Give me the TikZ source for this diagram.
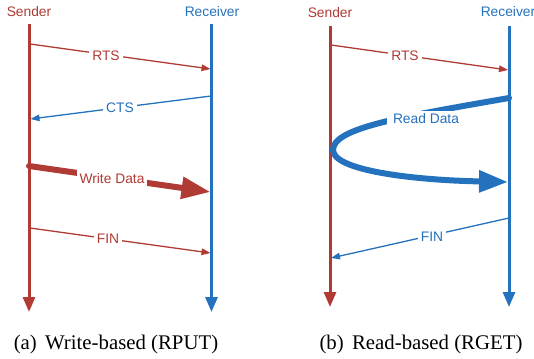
\documentclass[tikz,border=0pt]{standalone}
\usepackage{fontspec}
\setmainfont{Liberation Serif}
\setsansfont{Liberation Sans}
\usetikzlibrary{arrows.meta}
\definecolor{sred}{RGB}{176,58,52}
\definecolor{rblue}{RGB}{36,113,189}
\begin{document}
\begin{tikzpicture}[x=1pt,y=-1pt,
  lifeline/.style={line width=3pt,-{Triangle[length=15pt,width=12pt]}},
  msg/.style={line width=1.3pt,-{Triangle[length=9pt,width=6.5pt]}},
  bulk/.style={line width=6pt,line cap=round,-{Triangle[length=29pt,width=21pt]}},
  lbl/.style={font=\fontsize{13.8}{16}\selectfont\sffamily,anchor=base,inner sep=2pt},
  gap/.style={lbl,fill=white,inner sep=3pt},
  subcaption/.style={font=\fontsize{20.8}{24}\selectfont,anchor=base,inner sep=0pt}]
\useasboundingbox (0,0) rectangle (534,358);

% ---------- (a) write-based ----------
\node[lbl,text=sred]  (sa) at (29,17)  {Sender};
\node[lbl,text=rblue] (ra) at (212,17) {Receiver};
\coordinate (sa0) at (29,24);   \coordinate (sa1) at (29,312);
\coordinate (ra0) at (211.5,24); \coordinate (ra1) at (211.5,312);
\draw[lifeline,sred]  (sa0) -- (sa1);
\draw[lifeline,rblue] (ra0) -- (ra1);

\coordinate (a1) at (30,44);   \coordinate (a2) at (210.5,69);
\coordinate (a3) at (211,96);  \coordinate (a4) at (30.5,119);
\coordinate (a5) at (29,166);  \coordinate (a6) at (210.5,192);
\coordinate (a7) at (30,228);  \coordinate (a8) at (210.5,253);
\draw[msg,sred]  (a1) -- (a2);
\draw[msg,rblue] (a3) -- (a4);
\draw[bulk,sred] (a5) -- (a6);
\draw[msg,sred]  (a7) -- (a8);
\node[gap,text=sred]  (rtsa) at (106,60.5) {RTS};
\node[gap,text=rblue] (ctsa) at (120,112.5) {CTS};
\node[gap,text=sred]  (wd)   at (112,183) {Write Data};
\node[gap,text=sred]  (fina) at (108,243) {FIN};

\node[subcaption] (capa) at (116,349) {(a)\hspace{0.4em}Write-based (RPUT)};

% ---------- (b) read-based ----------
\node[lbl,text=sred]  (sb) at (330,18) {Sender};
\node[lbl,text=rblue] (rb) at (508,17) {Receiver};
\coordinate (sb0) at (330,26);  \coordinate (sb1) at (330,307);
\coordinate (rb0) at (509,26);  \coordinate (rb1) at (509,307);
\draw[lifeline,sred]  (sb0) -- (sb1);
\draw[lifeline,rblue] (rb0) -- (rb1);

\coordinate (b1) at (331,45);  \coordinate (b2) at (508,70);
\coordinate (b3) at (509,98);  \coordinate (b4) at (333,150); \coordinate (b5) at (508,182);
\coordinate (b6) at (509,218); \coordinate (b7) at (331,258);
\draw[msg,sred] (b1) -- (b2);
\draw[bulk,rblue] (b3) .. controls (400,117) and (333,128) .. (b4)
                       .. controls (333,170) and (410,180) .. (b5);
\draw[msg,rblue] (b6) -- (b7);
\node[gap,text=sred]  (rtsb) at (405,60.7) {RTS};
\node[gap,text=rblue,inner xsep=6pt] (rd) at (426,124) {Read Data};
\node[gap,text=rblue] (finb) at (432,241.5) {FIN};

\node[subcaption] (capb) at (421,349) {(b)\hspace{0.4em}Read-based (RGET)};
\end{tikzpicture}
\end{document}
